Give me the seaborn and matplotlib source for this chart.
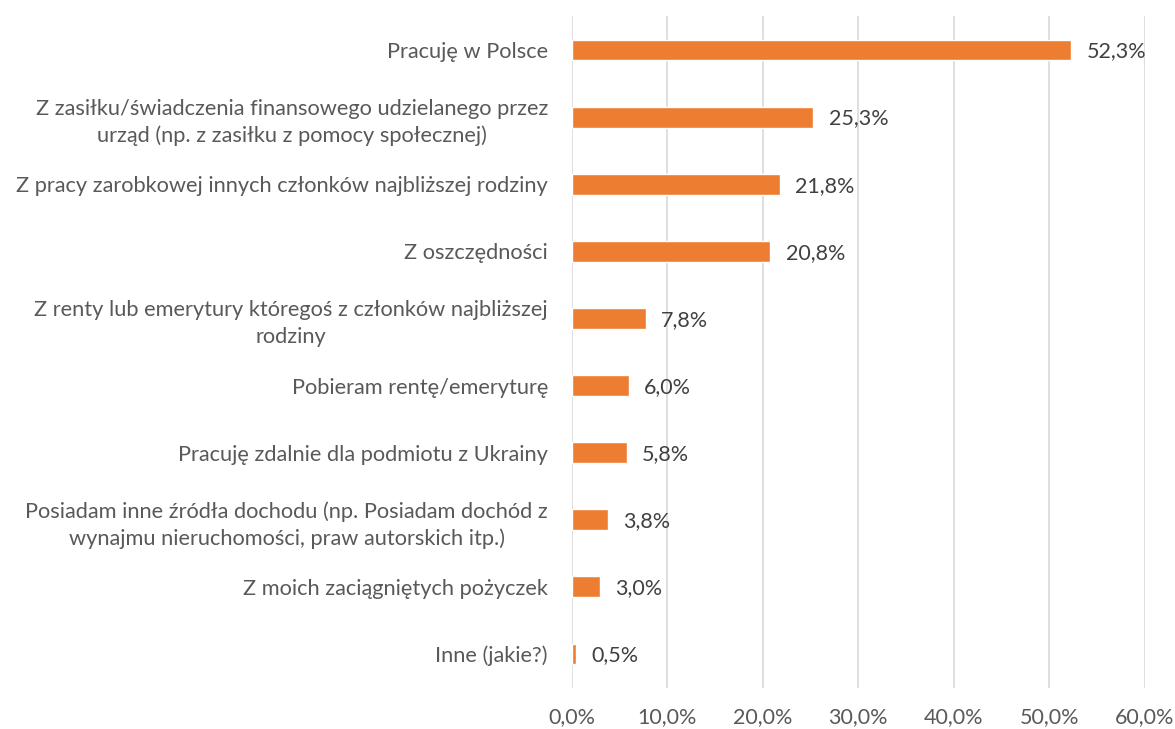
import matplotlib
matplotlib.use("Agg")
import matplotlib.pyplot as plt
import seaborn as sns
import pandas as pd
from matplotlib.ticker import FixedLocator, FuncFormatter

categories = [
    "Pracuję w Polsce",
    "Z zasiłku/świadczenia finansowego udzielanego przez\nurząd (np. z zasiłku z pomocy społecznej)",
    "Z pracy zarobkowej innych członków najbliższej rodziny",
    "Z oszczędności",
    "Z renty lub emerytury któregoś z członków najbliższej\nrodziny",
    "Pobieram rentę/emeryturę",
    "Pracuję zdalnie dla podmiotu z Ukrainy",
    "Posiadam inne źródła dochodu (np. Posiadam dochód z\nwynajmu nieruchomości, praw autorskich itp.)",
    "Z moich zaciągniętych pożyczek",
    "Inne (jakie?)",
]
values = [52.3, 25.3, 21.8, 20.8, 7.8, 6.0, 5.8, 3.8, 3.0, 0.5]
x_ticks = [0, 10, 20, 30, 40, 50, 60]

df = pd.DataFrame({"kategoria": categories, "procent": values})

sns.set_theme(style="white")
plt.rcParams["font.family"] = ["Lato", "DejaVu Sans"]

fig = plt.figure(figsize=(11.75, 7.29), dpi=100)
ax = fig.add_axes([0.4864, 0.0569, 0.9745 - 0.4864, 0.9774 - 0.0569])

sns.barplot(data=df, x="procent", y="kategoria", orient="h",
            color="#ED7D31", saturation=1, width=0.31, ax=ax, zorder=3)

ax.set_xlim(0, 60)
ax.set_ylim(len(categories) - 0.5, -0.5)
ax.xaxis.set_major_locator(FixedLocator(x_ticks))
ax.xaxis.set_major_formatter(FuncFormatter(lambda v, p: f"{v:.1f}%".replace(".", ",")))
ax.grid(axis="x", color="#D9D9D9", linewidth=1.2, zorder=0)
ax.grid(axis="y", visible=False)
for s in ax.spines.values():
    s.set_visible(False)
ax.set_xlabel("")
ax.set_ylabel("")
ax.tick_params(axis="x", length=0, pad=14, labelsize=15.5, labelcolor="#595959")
ax.tick_params(axis="y", length=0, pad=17, labelsize=15.7, labelcolor="#595959")
for lab in ax.get_yticklabels():
    lab.set_multialignment("center")
    lab.set_linespacing(1.4)

for i, v in enumerate(values):
    ax.annotate(f"{v:.1f}%".replace(".", ","), xy=(v, i), xytext=(11, -1),
                textcoords="offset points", va="center", ha="left",
                fontsize=15.5, color="#404040")

fig.savefig("out.png", dpi=100)
